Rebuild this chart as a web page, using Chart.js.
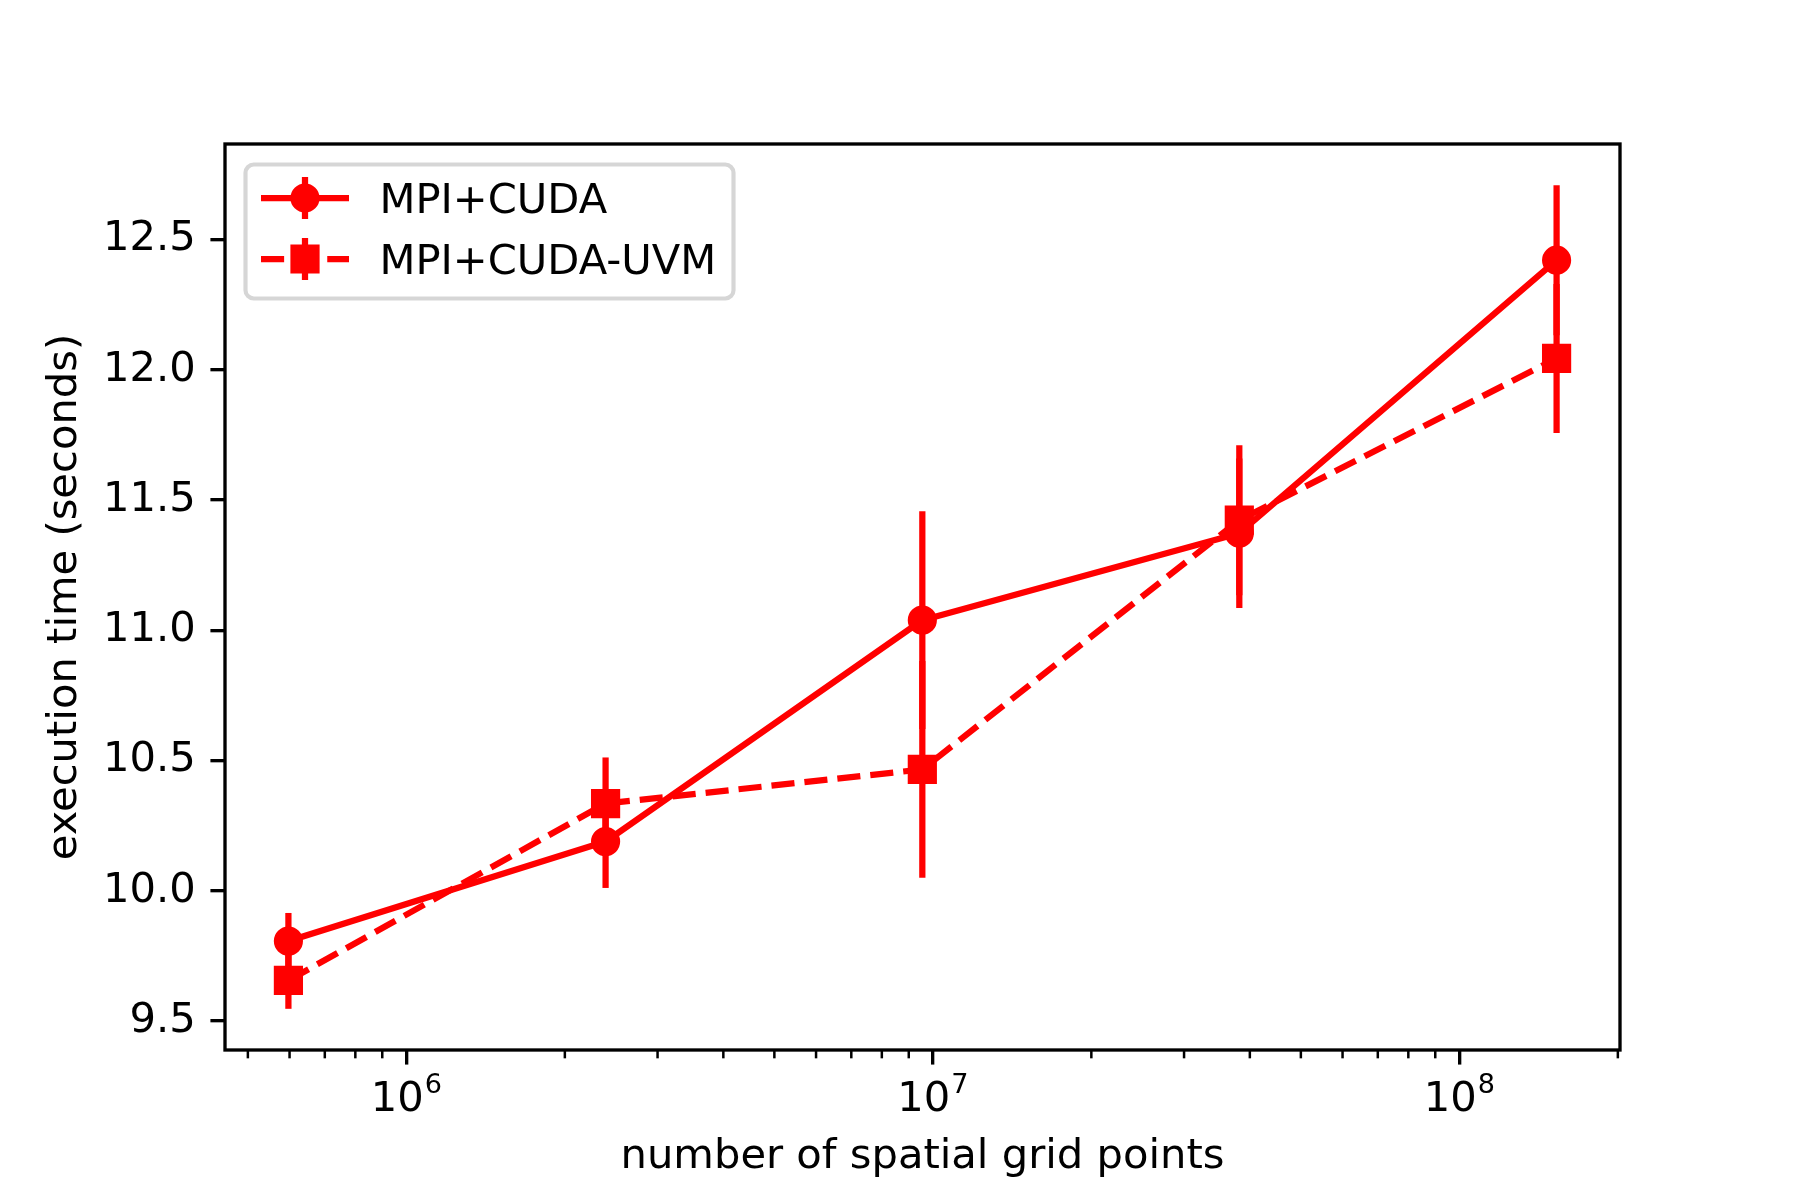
<!DOCTYPE html>
<html>
<head>
<meta charset="utf-8">
<script src="https://cdn.jsdelivr.net/npm/chart.js@4.4.1/dist/chart.umd.min.js"></script>
<style>
  html, body { margin: 0; padding: 0; background: #fff; }
  #wrap { width: 1800px; height: 1200px; }
</style>
</head>
<body>
<div id="wrap"><canvas id="chart" width="1800" height="1200"></canvas></div>
<script>
// Data
const gridPoints = [5.97e5, 2.39e6, 9.55e6, 3.82e7, 1.53e8];
const cudaTime = [9.807, 10.189, 11.039, 11.373, 12.421];
const cudaErr = [0.108, 0.178, 0.418, 0.287, 0.288];
const uvmTime = [9.656, 10.335, 10.466, 11.423, 12.044];
const uvmErr = [0.109, 0.177, 0.416, 0.288, 0.286];
const seriesNames = ['MPI+CUDA', 'MPI+CUDA-UVM'];
const xMajorTicks = [1e6, 1e7, 1e8];
const xTickBase = '10';
const xTickExp = ['6', '7', '8'];
const yTicks = [9.5, 10.0, 10.5, 11.0, 11.5, 12.0, 12.5];

// 300 dpi: points -> pixels
const PT = 300 / 72;
const FONT = '"DejaVu Sans", sans-serif';
const FS = 10 * PT;
const RED = '#ff0000';

// matplotlib-like autoscale with 5% margins
const lx = gridPoints.map(Math.log10);
const lxMin = Math.min(...lx), lxMax = Math.max(...lx);
const xMin = Math.pow(10, lxMin - 0.05 * (lxMax - lxMin));
const xMax = Math.pow(10, lxMax + 0.05 * (lxMax - lxMin));
const lows = cudaTime.map((v, i) => v - cudaErr[i]).concat(uvmTime.map((v, i) => v - uvmErr[i]));
const highs = cudaTime.map((v, i) => v + cudaErr[i]).concat(uvmTime.map((v, i) => v + uvmErr[i]));
const yLo = Math.min(...lows), yHi = Math.max(...highs);
const yMin = yLo - 0.05 * (yHi - yLo);
const yMax = yHi + 0.05 * (yHi - yLo);

// minor log ticks (2..9 per decade) inside the range
const xMinorTicks = [];
for (let d = Math.floor(Math.log10(xMin)); d <= Math.ceil(Math.log10(xMax)); d++) {
    for (let k = 2; k <= 9; k++) {
        const v = k * Math.pow(10, d);
        if (v >= xMin && v <= xMax * 1.0001) xMinorTicks.push(v);
    }
}

const errors = [cudaErr, uvmErr];

const decor = {
    id: 'decor',
    beforeDatasetsDraw(chart) {
        const ctx = chart.ctx;
        const xs = chart.scales.x, ys = chart.scales.y;
        ctx.save();
        ctx.strokeStyle = RED;
        ctx.lineWidth = 1.5 * PT;
        ctx.lineCap = 'butt';
        chart.data.datasets.forEach((ds, i) => {
            ds.data.forEach((p, j) => {
                const x = xs.getPixelForValue(p.x);
                ctx.beginPath();
                ctx.moveTo(x, ys.getPixelForValue(p.y + errors[i][j]));
                ctx.lineTo(x, ys.getPixelForValue(p.y - errors[i][j]));
                ctx.stroke();
            });
        });
        ctx.restore();
    },
    afterDatasetsDraw(chart) {
        const ctx = chart.ctx;
        const a = chart.chartArea;
        const xs = chart.scales.x;
        ctx.save();
        // minor ticks
        ctx.strokeStyle = '#000';
        ctx.lineWidth = 0.6 * PT;
        xMinorTicks.forEach(v => {
            const x = xs.getPixelForValue(v);
            ctx.beginPath();
            ctx.moveTo(x, a.bottom);
            ctx.lineTo(x, a.bottom + 2 * PT);
            ctx.stroke();
        });
        // spines
        ctx.lineWidth = 0.8 * PT;
        ctx.strokeRect(a.left, a.top, a.right - a.left, a.bottom - a.top);

        // x tick labels as 10^n with raised exponent
        ctx.fillStyle = '#000';
        ctx.textBaseline = 'alphabetic';
        ctx.textAlign = 'left';
        const expFS = 0.65 * FS;
        xMajorTicks.forEach((v, i) => {
            const x = xs.getPixelForValue(v);
            ctx.font = FS + 'px ' + FONT;
            const wb = ctx.measureText(xTickBase).width;
            ctx.font = expFS + 'px ' + FONT;
            const we = ctx.measureText(xTickExp[i]).width;
            const x0 = x - (wb + we + 1) / 2;
            const base = a.bottom + 61;
            ctx.font = FS + 'px ' + FONT;
            ctx.fillText(xTickBase, x0, base);
            ctx.font = expFS + 'px ' + FONT;
            ctx.fillText(xTickExp[i], x0 + wb + 1, base - 18.5);
        });
        ctx.restore();
    },
    afterDraw(chart) {
        const ctx = chart.ctx;
        const a = chart.chartArea;
        const left = a.left + 20.5, top = a.top + 20.5;
        ctx.save();
        ctx.beginPath();
        ctx.roundRect(left, top, 488, 134, 0.2 * FS);
        ctx.fillStyle = 'rgba(255,255,255,0.8)';
        ctx.fill();
        ctx.lineWidth = 1 * PT;
        ctx.strokeStyle = 'rgba(204,204,204,0.8)';
        ctx.stroke();

        const rowY = [top + 33.5, top + 94.5];
        const styles = ['circle', 'rect'];
        const radii = [12.5, 17.7];
        const hx0 = left + 15.5, hx1 = left + 103.5, hxc = (hx0 + hx1) / 2;
        rowY.forEach((y, i) => {
            ctx.strokeStyle = RED;
            ctx.lineWidth = 1.5 * PT;
            ctx.lineCap = 'butt';
            ctx.setLineDash(i === 1 ? [3.7 * 1.5 * PT, 1.6 * 1.5 * PT] : []);
            ctx.beginPath();
            ctx.moveTo(hx0, y);
            ctx.lineTo(hx1, y);
            ctx.stroke();
            ctx.setLineDash([]);
            ctx.beginPath();
            ctx.moveTo(hxc, y - 21);
            ctx.lineTo(hxc, y + 21);
            ctx.stroke();
            ctx.fillStyle = RED;
            ctx.lineWidth = 1 * PT;
            Chart.helpers.drawPoint(ctx, { pointStyle: styles[i], radius: radii[i], borderWidth: 1 * PT }, hxc, y);
            ctx.fillStyle = '#000';
            ctx.font = FS + 'px ' + FONT;
            ctx.textBaseline = 'alphabetic';
            ctx.textAlign = 'left';
            ctx.fillText(seriesNames[i], left + 134, y + 14.7);
        });
        ctx.restore();
    }
};

const ctx = document.getElementById('chart').getContext('2d');
const chart = new Chart(ctx, {
    type: 'line',
    data: {
        datasets: [{
            label: seriesNames[0],
            data: gridPoints.map((x, i) => ({ x: x, y: cudaTime[i] })),
            borderColor: RED,
            backgroundColor: RED,
            borderWidth: 1.5 * PT,
            borderCapStyle: 'square',
            borderJoinStyle: 'round',
            pointStyle: 'circle',
            pointRadius: 12.5,
            pointBorderWidth: 1 * PT,
            pointBackgroundColor: RED,
            pointBorderColor: RED,
            tension: 0,
            order: 1
        }, {
            label: seriesNames[1],
            data: gridPoints.map((x, i) => ({ x: x, y: uvmTime[i] })),
            borderColor: RED,
            backgroundColor: RED,
            borderWidth: 1.5 * PT,
            borderDash: [3.7 * 1.5 * PT, 1.6 * 1.5 * PT],
            borderCapStyle: 'butt',
            borderJoinStyle: 'round',
            pointStyle: 'rect',
            pointRadius: 17.7,
            pointBorderWidth: 1 * PT,
            pointBackgroundColor: RED,
            pointBorderColor: RED,
            tension: 0,
            order: 0
        }]
    },
    options: {
        responsive: false,
        devicePixelRatio: 1,
        animation: false,
        events: [],
        layout: { padding: { top: 144, right: 180, left: 0, bottom: 0 } },
        plugins: {
            legend: { display: false },
            tooltip: { enabled: false }
        },
        scales: {
            x: {
                type: 'logarithmic',
                position: 'bottom',
                min: xMin,
                max: xMax,
                afterBuildTicks(scale) {
                    scale.ticks = xMajorTicks.map(v => ({ value: v }));
                },
                afterFit(scale) { scale.height = 150; },
                ticks: {
                    display: false,
                    autoSkip: false,
                    maxRotation: 0,
                    minRotation: 0
                },
                grid: {
                    drawOnChartArea: false,
                    drawTicks: true,
                    tickLength: 3.5 * PT,
                    tickWidth: 0.8 * PT,
                    tickColor: '#000',
                    lineWidth: 0.8 * PT
                },
                border: { display: false },
                title: {
                    display: true,
                    text: 'number of spatial grid points',
                    color: '#000',
                    font: { family: FONT, size: FS },
                    padding: { top: 0, bottom: 18 }
                }
            },
            y: {
                type: 'linear',
                min: yMin,
                max: yMax,
                afterBuildTicks(scale) {
                    scale.ticks = yTicks.map(v => ({ value: v }));
                },
                afterFit(scale) { scale.width = 225; },
                ticks: {
                    padding: 3.5 * PT,
                    color: '#000',
                    font: { family: FONT, size: FS },
                    callback(value) { return Number(value).toFixed(1); }
                },
                grid: {
                    drawOnChartArea: false,
                    drawTicks: true,
                    tickLength: 3.5 * PT,
                    tickWidth: 0.8 * PT,
                    tickColor: '#000',
                    lineWidth: 0.8 * PT
                },
                border: { display: false },
                title: {
                    display: true,
                    text: 'execution time (seconds)',
                    color: '#000',
                    font: { family: FONT, size: FS },
                    padding: { top: 40, bottom: 0 }
                }
            }
        }
    },
    plugins: [decor]
});
</script>
</body>
</html>
